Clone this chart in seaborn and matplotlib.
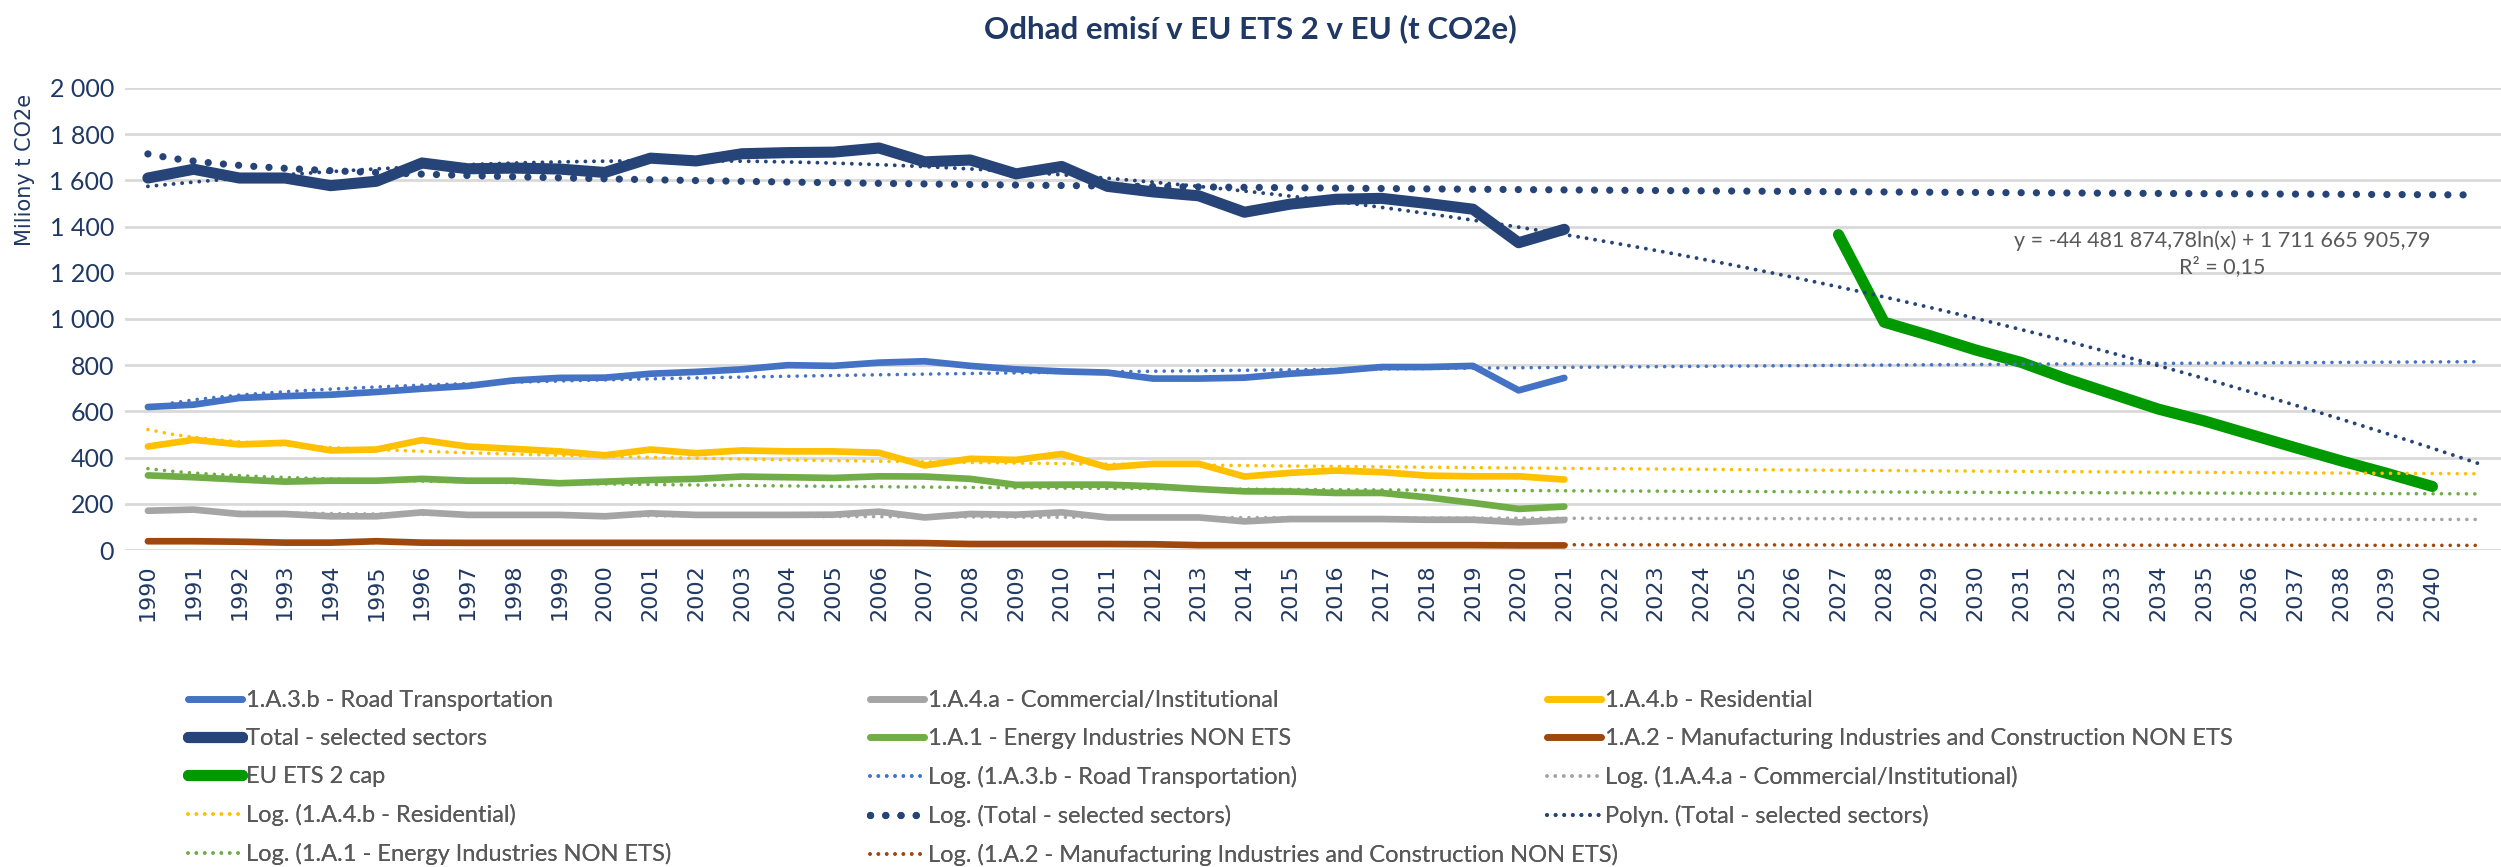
import numpy as np
import matplotlib
matplotlib.use("Agg")
import matplotlib.pyplot as plt
import seaborn as sns

# --- data (miliony t CO2e) ---
years = list(range(1990, 2041))
hist_years = list(range(1990, 2022))
cap_years = list(range(2027, 2041))

road = [619, 629, 658, 666, 672, 684, 698, 710, 734, 745, 746, 763, 771, 782, 800,
        797, 811, 817, 797, 782, 773, 768, 742, 742, 746, 763, 775, 792, 792, 797, 691, 745]
commercial = [170, 175, 156, 156, 146, 146, 163, 152, 152, 152, 146, 159, 152, 152, 152,
              153, 166, 141, 156, 153, 163, 141, 141, 141, 124, 134, 134, 134, 131, 131, 120, 130]
residential = [448, 477, 457, 464, 431, 435, 476, 448, 438, 427, 410, 435, 419, 431, 427,
               427, 421, 366, 395, 390, 416, 358, 373, 373, 318, 334, 344, 337, 322, 319, 319, 305]
total = [1610, 1648, 1610, 1610, 1577, 1596, 1675, 1650, 1653, 1649, 1634, 1696, 1684, 1715, 1720,
         1722, 1740, 1680, 1688, 1628, 1660, 1574, 1550, 1533, 1462, 1497, 1518, 1522, 1500, 1475, 1330, 1388]
energy = [323, 315, 305, 296, 300, 300, 308, 300, 300, 289, 296, 303, 308, 318, 315,
          312, 319, 318, 308, 282, 283, 283, 276, 264, 254, 253, 247, 247, 228, 204, 178, 188]
manufacturing = [38, 38, 36, 32, 32, 38, 32, 31, 31, 31, 31, 31, 31, 31, 31,
                 31, 31, 30, 26, 26, 26, 26, 25, 21, 21, 21, 21, 21, 21, 21, 20, 20]
cap = [1365, 986, 928, 866, 812, 740, 675, 610, 559, 501, 443, 386, 332, 275]

NAVY = "#1F3864"
GREY_TXT = "#595959"

sns.set_theme(style="white")
plt.rcParams["font.family"] = ["Lato", "DejaVu Sans"]

fig = plt.figure(figsize=(25.01, 8.67), dpi=100)
ax = fig.add_axes([0.05, 0.3656, 0.95, 0.533])

# category positions like in Excel (1 = 1990)
hx = np.arange(1, len(hist_years) + 1)
cx = np.array([years.index(y) + 1 for y in cap_years])

series = [
    ("1.A.3.b - Road Transportation", road, "#4472C4", 4.8),
    ("1.A.4.a - Commercial/Institutional", commercial, "#A5A5A5", 4.8),
    ("1.A.4.b - Residential", residential, "#FFC000", 4.8),
    ("Total - selected sectors", total, "#264478", 8),
    ("1.A.1 - Energy Industries NON ETS", energy, "#70AD47", 4.8),
    ("1.A.2 - Manufacturing Industries and Construction NON ETS", manufacturing, "#9E480E", 4.8),
]
for name, vals, col, lw in series:
    sns.lineplot(x=hx, y=vals, color=col, linewidth=lw, label=name, ax=ax,
                 solid_capstyle="round", zorder=3)
sns.lineplot(x=cx, y=cap, color="#009900", linewidth=8, label="EU ETS 2 cap", ax=ax,
             solid_capstyle="round", zorder=3)

# trend lines (fits drawn by seaborn over x = 1 .. 52)
ax.set_xlim(1, 52)
small_dots = (0, (0.01, 2.3))
for name, vals, col, lw in series:
    if name.startswith("Total"):
        continue
    sns.regplot(x=hx, y=np.array(vals, float), logx=True, scatter=False, ci=None,
                truncate=False, color=col, label=f"Log. ({name})", ax=ax,
                line_kws=dict(linewidth=2.6, linestyle=small_dots,
                              dash_capstyle="round", zorder=4))
sns.regplot(x=hx, y=np.array(total, float), logx=True, scatter=False, ci=None,
            truncate=False, color="#264478", label="Log. (Total - selected sectors)", ax=ax,
            line_kws=dict(linewidth=5.2, linestyle=(0, (0.01, 2.1)),
                          dash_capstyle="round", zorder=4))
sns.regplot(x=hx, y=np.array(total, float), order=2, scatter=False, ci=None,
            truncate=False, color="#264478", label="Polyn. (Total - selected sectors)", ax=ax,
            line_kws=dict(linewidth=2.8, linestyle=(0, (0.01, 2.2)),
                          dash_capstyle="round", zorder=4))

ax.set_xlim(0.5, 52.5)
ax.set_ylim(0, 2000)
ax.set_xticks(np.arange(1, len(years) + 1))
ax.set_xticklabels([str(y) for y in years], rotation=90, fontsize=16,
                   family=["DejaVu Sans"], color=NAVY)
yt = np.arange(0, 2001, 200)
ax.set_yticks(yt)
ax.set_yticklabels([f"{v:,}".replace(",", " ") for v in yt], fontsize=18, color=NAVY)
ax.tick_params(axis="both", length=0)
ax.tick_params(axis="y", pad=8)
ax.tick_params(axis="x", pad=10)
ax.grid(axis="y", color="#D9D9D9", linewidth=2)
ax.grid(axis="x", visible=False)
for s in ax.spines.values():
    s.set_visible(False)
ax.set_xlabel("")
ax.set_ylabel("")

fig.text(0.5, 1 - 29 / 867, "Odhad emisí v EU ETS 2 v EU (t CO2e)", ha="center", va="center",
         fontsize=22.5, fontweight="bold", color=NAVY)
fig.text(25 / 2501, 1 - 170 / 867, "Miliony t CO2e", rotation=90, ha="center", va="center",
         fontsize=15, family=["DejaVu Sans"], color=NAVY)

ax.text(46.4, 1283, "y = -44 481 874,78ln(x) + 1 711 665 905,79\nR² = 0,15",
        ha="center", va="center", fontsize=15.5, color=GREY_TXT, linespacing=1.3, zorder=5)

# legend laid out in three columns as in the original
h, l = ax.get_legend_handles_labels()
lookup = dict(zip(l, h))
if ax.get_legend() is not None:
    ax.get_legend().remove()
columns = [
    ["1.A.3.b - Road Transportation", "Total - selected sectors", "EU ETS 2 cap",
     "Log. (1.A.4.b - Residential)", "Log. (1.A.1 - Energy Industries NON ETS)"],
    ["1.A.4.a - Commercial/Institutional", "1.A.1 - Energy Industries NON ETS",
     "Log. (1.A.3.b - Road Transportation)", "Log. (Total - selected sectors)",
     "Log. (1.A.2 - Manufacturing Industries and Construction NON ETS)"],
    ["1.A.4.b - Residential", "1.A.2 - Manufacturing Industries and Construction NON ETS",
     "Log. (1.A.4.a - Commercial/Institutional)", "Polyn. (Total - selected sectors)"],
]
col_x = [188 / 2501, 870 / 2501, 1547 / 2501]
for labels, x0 in zip(columns, col_x):
    leg = fig.legend([lookup[k] for k in labels], labels, loc="upper left",
                     bbox_to_anchor=(x0, 1 - 690 / 867), frameon=False, fontsize=17,
                     handlelength=2.3, handletextpad=0.15, labelspacing=0.72,
                     borderpad=0, borderaxespad=0, labelcolor=GREY_TXT)
    fig.add_artist(leg)

fig.savefig("out.png", dpi=100)
